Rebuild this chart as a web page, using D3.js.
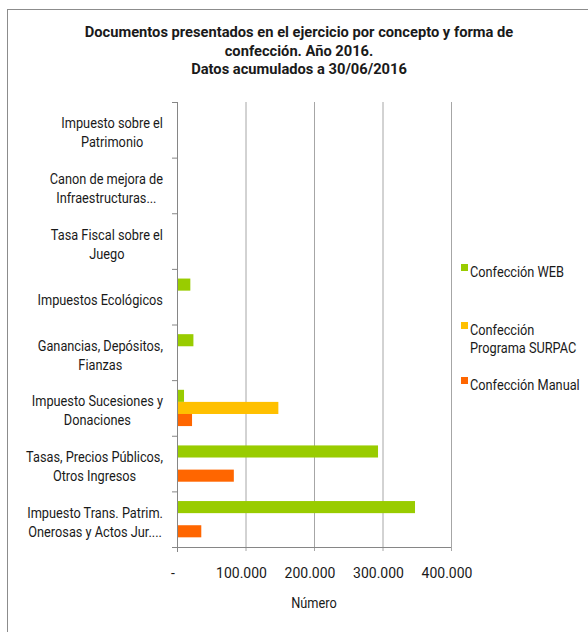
<!DOCTYPE html>
<html>

<head>
    <meta charset="utf-8">
    <title>Documentos presentados</title>
    <script src="https://cdn.jsdelivr.net/npm/d3@7"></script>
    <style>
        body { margin: 0; background: #fff; }
        text { font-family: Roboto, "Liberation Sans", sans-serif; fill: #1a1a1a; }
    </style>
</head>

<body>
    <svg></svg>
    <script>
        const width = 588;
        const height = 632;
        const plot = { left: 177, right: 451, top: 102, bottom: 547 };
        const narrow = 0.88; // horizontal squeeze to mimic the condensed face

        // categories, top to bottom, with their wrapped label lines
        const categories = [
            ["Impuesto sobre el", "Patrimonio"],
            ["Canon de mejora de", "Infraestructuras..."],
            ["Tasa Fiscal sobre el", "Juego"],
            ["Impuestos Ecológicos"],
            ["Ganancias, Depósitos,", "Fianzas"],
            ["Impuesto Sucesiones y", "Donaciones"],
            ["Tasas, Precios Públicos,", "Otros Ingresos"],
            ["Impuesto Trans. Patrim.", "Onerosas y Actos Jur...."]
        ];
        const seriesNames = ["Confección WEB", "Confección Programa SURPAC", "Confección Manual"];
        const seriesColors = ["#99cc00", "#ffc000", "#ff6600"];
        const web = [0, 0, 0, 18000, 22500, 8800, 292000, 346000];
        const surpac = [0, 0, 0, 0, 0, 146500, 0, 0];
        const manual = [0, 0, 0, 0, 0, 20500, 81500, 34000];
        const xTicks = [0, 100000, 200000, 300000, 400000];
        const xTickLabels = ["-", "100.000", "200.000", "300.000", "400.000"];
        const titleLines = ["Documentos presentados en el ejercicio por concepto y forma de", "confección. Año 2016.", "Datos acumulados a 30/06/2016"];

        const values = [web, surpac, manual];
        const catKeys = categories.map((c) => c.join(" "));

        let svg = d3.select("svg")
            .attr("width", width)
            .attr("height", height);

        // outer frame
        svg.append("rect")
            .attr("x", 7.5).attr("y", 9.5)
            .attr("width", 600).attr("height", 640)
            .attr("fill", "none")
            .attr("stroke", "#8c8c8c");

        // title
        svg.append("text")
            .attr("text-anchor", "middle")
            .attr("font-weight", "bold")
            .attr("font-size", "14.7px")
            .selectAll("tspan")
            .data(titleLines)
            .enter()
            .append("tspan")
            .attr("x", 299)
            .attr("y", (d, i) => 37 + i * 18.5)
            .text((d) => d);

        let xScale = d3.scaleLinear()
            .domain([0, 400000])
            .range([plot.left, plot.right]);

        let yScale = d3.scaleBand()
            .domain(catKeys)
            .range([plot.top, plot.bottom]);

        let ySeries = d3.scaleBand()
            .domain(seriesNames)
            .range([0, yScale.bandwidth()])
            .paddingOuter(0.8);

        // gridlines
        svg.append("g")
            .selectAll("line")
            .data(xTicks.slice(1))
            .enter()
            .append("line")
            .attr("x1", (d) => xScale(d) + 0.5)
            .attr("x2", (d) => xScale(d) + 0.5)
            .attr("y1", plot.top)
            .attr("y2", plot.bottom + 4)
            .attr("stroke", "#a6a6a6");

        // bars
        let groups = svg.append("g")
            .selectAll("g")
            .data(catKeys)
            .enter()
            .append("g")
            .attr("transform", (d) => "translate(0," + yScale(d) + ")");

        groups.selectAll("rect")
            .data((d, i) => seriesNames.map((s, j) => ({ s: s, v: values[j][i], c: seriesColors[j] })))
            .enter()
            .append("rect")
            .filter((d) => d.v > 0)
            .attr("x", xScale(0) + 1)
            .attr("y", (d) => ySeries(d.s))
            .attr("width", (d) => xScale(d.v) - xScale(0))
            .attr("height", ySeries.bandwidth())
            .attr("fill", (d) => d.c);

        // y axis
        let yAxis = svg.append("g");
        yAxis.append("line")
            .attr("x1", plot.left + 0.5).attr("x2", plot.left + 0.5)
            .attr("y1", plot.top).attr("y2", plot.bottom + 4)
            .attr("stroke", "#868686");
        yAxis.selectAll("line.tick")
            .data(catKeys.concat(["end"]))
            .enter()
            .append("line")
            .attr("class", "tick")
            .attr("x1", plot.left - 5).attr("x2", plot.left)
            .attr("y1", (d) => (d === "end" ? plot.bottom : yScale(d)) + 0.5)
            .attr("y2", (d) => (d === "end" ? plot.bottom : yScale(d)) + 0.5)
            .attr("stroke", "#868686");

        // category labels: lines centred, block right-aligned to the axis
        const labelRight = 163;
        let labels = svg.append("g")
            .selectAll("text")
            .data(categories)
            .enter()
            .append("text")
            .attr("text-anchor", "middle")
            .attr("font-size", "14.5px");
        labels.selectAll("tspan")
            .data((d, i) => d.map((line, k) => ({ line: line, k: k, n: d.length, cat: catKeys[i] })))
            .enter()
            .append("tspan")
            .attr("x", 0)
            .attr("y", (d) => yScale(d.cat) + yScale.bandwidth() / 2 + 8 + (d.k - (d.n - 1) / 2) * 19)
            .text((d) => d.line);
        labels.each(function () {
            let spans = d3.select(this).selectAll("tspan");
            let w = d3.max(spans.nodes(), (n) => n.getComputedTextLength()) * narrow;
            d3.select(this).attr("transform", "translate(" + (labelRight - w / 2) + ",0) scale(" + narrow + ",1)");
        });

        // x axis
        svg.append("line")
            .attr("x1", plot.left).attr("x2", plot.right)
            .attr("y1", plot.bottom + 0.5).attr("y2", plot.bottom + 0.5)
            .attr("stroke", "#868686");
        svg.append("line")
            .attr("x1", xScale(0) + 0.5).attr("x2", xScale(0) + 0.5)
            .attr("y1", plot.bottom).attr("y2", plot.bottom + 5)
            .attr("stroke", "#868686");

        svg.append("g")
            .selectAll("text")
            .data(xTicks)
            .enter()
            .append("text")
            .attr("x", (d) => xScale(d) - 4)
            .attr("y", 578)
            .attr("text-anchor", "middle")
            .attr("font-size", "14px")
            .text((d, i) => xTickLabels[i]);

        svg.append("text")
            .attr("transform", "translate(" + xScale(200000) + ",608) scale(" + narrow + ",1)")
            .attr("text-anchor", "middle")
            .attr("font-size", "14.5px")
            .text("Número");

        // legend
        const legendY = [277, 335, 390];
        const legendLines = [["Confección WEB"], ["Confección", "Programa SURPAC"], ["Confección Manual"]];
        let legend = svg.append("g")
            .selectAll("g")
            .data(seriesNames)
            .enter()
            .append("g")
            .attr("transform", (d, i) => "translate(461," + legendY[i] + ")");
        legend.append("rect")
            .attr("x", 0).attr("y", -13)
            .attr("width", 7).attr("height", 7)
            .attr("fill", (d, i) => seriesColors[i]);
        legend.append("text")
            .attr("transform", "translate(9,0) scale(" + narrow + ",1)")
            .attr("font-size", "14.5px")
            .selectAll("tspan")
            .data((d, i) => legendLines[i])
            .enter()
            .append("tspan")
            .attr("x", 0)
            .attr("y", (d, k) => k * 18)
            .text((d) => d);
    </script>
</body>

</html>
